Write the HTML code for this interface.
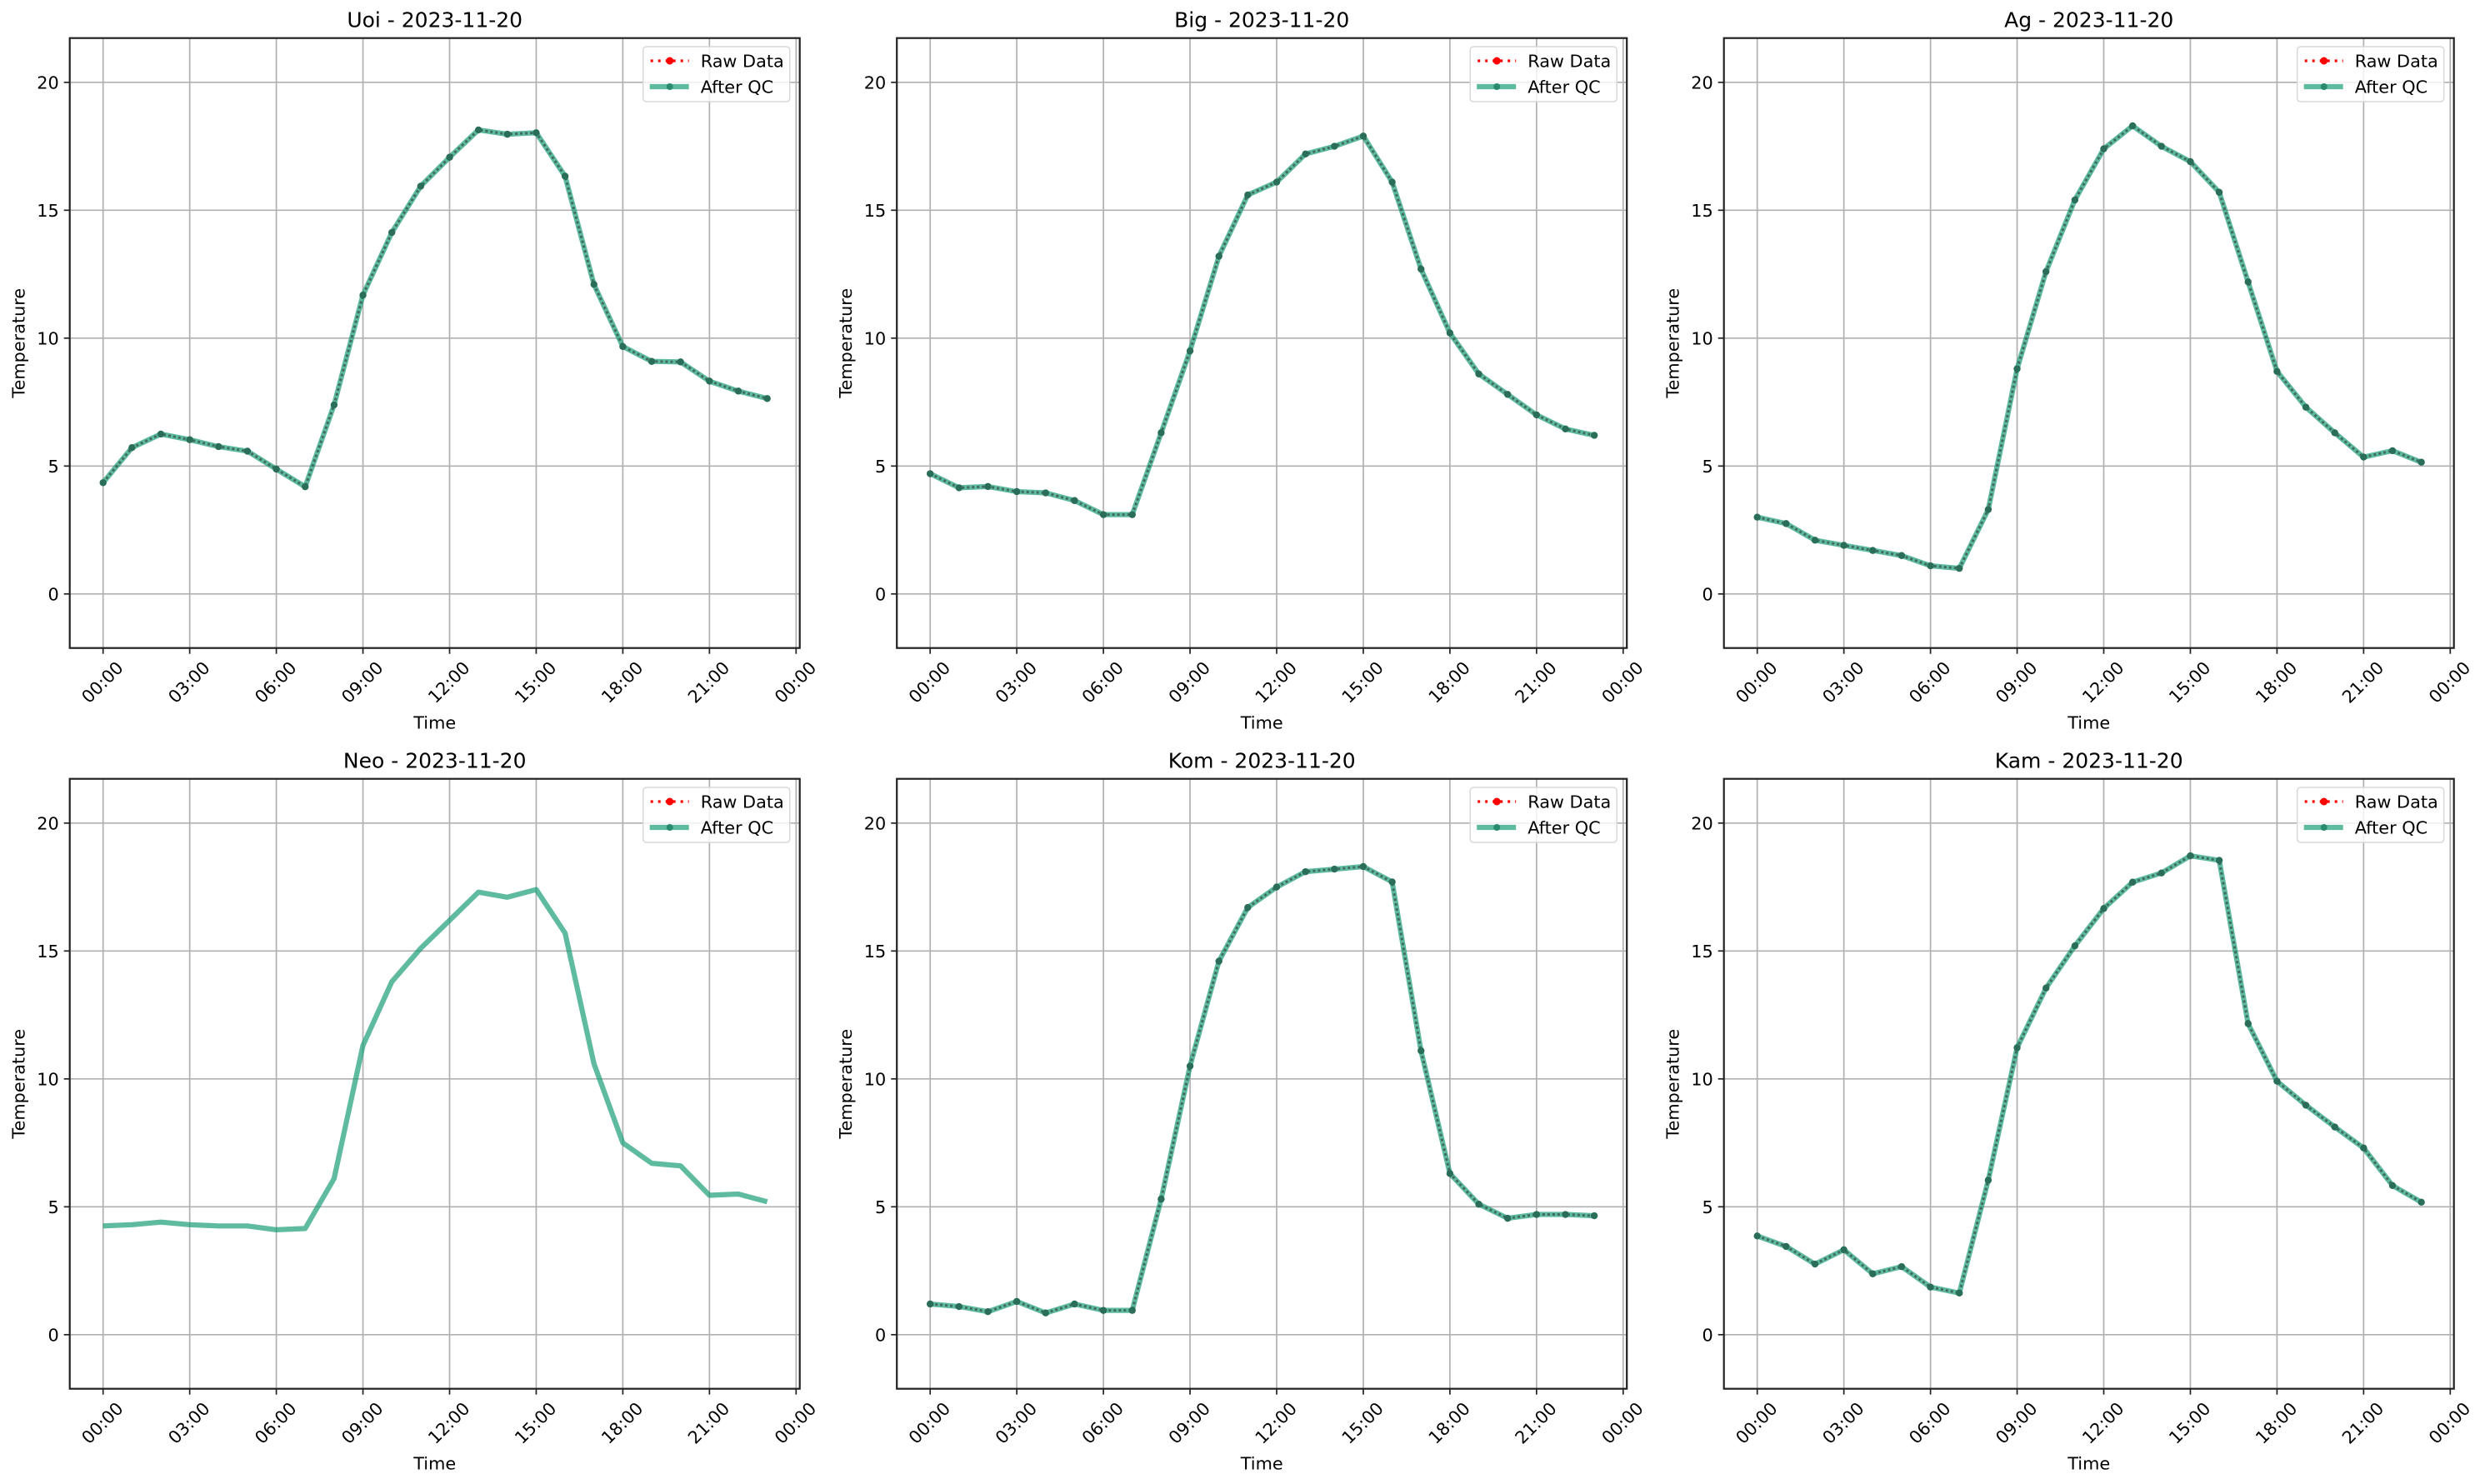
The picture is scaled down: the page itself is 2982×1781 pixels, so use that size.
<!DOCTYPE html>
<html><head><meta charset="utf-8"><style>
html,body{margin:0;padding:0;background:#fff;}
svg{display:block;font-family:"DejaVu Sans","Liberation Sans",sans-serif;}
.t{font-size:20.8px;fill:#000}
.ti{font-size:25px;fill:#000}
</style></head><body>
<svg id="s" width="2982" height="1781" viewBox="0 0 2982 1781" xmlns="http://www.w3.org/2000/svg">
<rect width="2982" height="1781" fill="#fff"/>
<g id="p0" transform="translate(83.7,45.7)"><g class="plot"></g>
<text class="ti" x="438" y="-13" text-anchor="middle">Uoi - 2023-11-20</text></g>
<g id="p1" transform="translate(1076.2,45.7)"><g class="plot"></g>
<text class="ti" x="438" y="-13" text-anchor="middle">Big - 2023-11-20</text></g>
<g id="p2" transform="translate(2068.7,45.7)"><g class="plot"></g>
<text class="ti" x="438" y="-13" text-anchor="middle">Ag - 2023-11-20</text></g>
<g id="p3" transform="translate(83.7,934.7)"><g class="plot"></g>
<text class="ti" x="438" y="-13" text-anchor="middle">Neo - 2023-11-20</text></g>
<g id="p4" transform="translate(1076.2,934.7)"><g class="plot"></g>
<text class="ti" x="438" y="-13" text-anchor="middle">Kom - 2023-11-20</text></g>
<g id="p5" transform="translate(2068.7,934.7)"><g class="plot"></g>
<text class="ti" x="438" y="-13" text-anchor="middle">Kam - 2023-11-20</text></g>
</svg>
<div id="labels" style="display:none">
Temperature Time 0 5 10 15 20 00:00 03:00 06:00 09:00 12:00 15:00 18:00 21:00 Raw Data After QC
</div>
<script>
var NS="http://www.w3.org/2000/svg";
var data=[
[4.35,5.72,6.25,6.03,5.76,5.58,4.88,4.19,7.39,11.68,14.13,15.94,17.07,18.14,17.97,18.03,16.33,12.10,9.67,9.09,9.07,8.32,7.93,7.64],
[4.7,4.15,4.2,4.0,3.95,3.65,3.1,3.1,6.3,9.5,13.2,15.6,16.1,17.2,17.5,17.9,16.1,12.7,10.2,8.6,7.8,7.0,6.45,6.2],
[3.0,2.75,2.1,1.9,1.7,1.5,1.1,1.0,3.3,8.8,12.6,15.4,17.4,18.3,17.5,16.9,15.7,12.2,8.7,7.3,6.3,5.35,5.6,5.15],
[4.25,4.3,4.4,4.3,4.25,4.25,4.1,4.15,6.1,11.3,13.8,15.1,16.2,17.3,17.1,17.4,15.7,10.6,7.5,6.7,6.6,5.45,5.5,5.2],
[1.2,1.1,0.9,1.3,0.85,1.2,0.95,0.95,5.3,10.5,14.6,16.7,17.5,18.1,18.2,18.3,17.7,11.1,6.3,5.1,4.55,4.7,4.7,4.65],
[3.86,3.45,2.76,3.32,2.38,2.66,1.86,1.63,6.04,11.22,13.55,15.2,16.66,17.69,18.05,18.72,18.54,12.16,9.91,8.97,8.12,7.30,5.83,5.18]];
function X(h){return 40+h*34.65;}
function Y(v){return (21.73-v)*30.7;}
function el(p,tag,a,txt){var e=document.createElementNS(NS,tag);for(var k in a)e.setAttribute(k,a[k]);if(txt!==undefined)e.textContent=txt;p.appendChild(e);return e;}
var W=876,H=732;
for(var i=0;i<6;i++){
 var g=document.getElementById('p'+i).querySelector('.plot');
 var h;
 for(h=0;h<=24;h+=3){el(g,'line',{x1:X(h),x2:X(h),y1:0,y2:H,stroke:'#b0b0b0','stroke-width':1.7});
   el(g,'line',{x1:X(h),x2:X(h),y1:H,y2:H+7,stroke:'#222','stroke-width':1.7});
   var lab=(h%24<10?'0':'')+(h%24)+':00';
   el(g,'text',{'class':'t',transform:'translate('+X(h)+','+(H+42)+') rotate(-45)','text-anchor':'middle','dominant-baseline':'middle'},lab);}
 for(var v=0;v<=20;v+=5){el(g,'line',{x1:0,x2:W,y1:Y(v),y2:Y(v),stroke:'#b0b0b0','stroke-width':1.7});
   el(g,'line',{x1:-7,x2:0,y1:Y(v),y2:Y(v),stroke:'#222','stroke-width':1.7});
   el(g,'text',{'class':'t',x:-13,y:Y(v)+7.5,'text-anchor':'end'},String(v));}
 var pts=data[i].map(function(v,k){return X(k).toFixed(1)+','+Y(v).toFixed(1);}).join(' ');
 el(g,'polyline',{points:pts,fill:'none',stroke:'#1b9e77','stroke-opacity':0.7,'stroke-width':6.2,'stroke-linejoin':'round'});
 if(i!==3){
  el(g,'polyline',{points:pts,fill:'none',stroke:'#3a5e52','stroke-opacity':0.85,'stroke-width':3,'stroke-dasharray':'3 3'});
  data[i].forEach(function(v,k){el(g,'circle',{cx:X(k),cy:Y(v),r:4.2,fill:'#2a6e5a'});});
 }
 el(g,'rect',{x:0,y:0,width:W,height:H,fill:'none',stroke:'#222','stroke-width':2.2});
 el(g,'text',{'class':'t',x:438,y:H+97,'text-anchor':'middle'},'Time');
 el(g,'text',{'class':'t',transform:'translate(-54,'+(H/2)+') rotate(-90)','text-anchor':'middle'},'Temperature');
 var lx=688,ly=10.3;
 el(g,'rect',{x:lx,y:ly,width:176,height:66,rx:4,fill:'#fff','fill-opacity':0.8,stroke:'#d8d8d8','stroke-width':1.5});
 el(g,'line',{x1:lx+9,x2:lx+55,y1:ly+17,y2:ly+17,stroke:'#ff0000','stroke-width':3.2,'stroke-dasharray':'3 6'});
 el(g,'circle',{cx:lx+32,cy:ly+17,r:4.5,fill:'#ff0000'});
 el(g,'text',{'class':'t',x:lx+69,y:ly+24.5},'Raw Data');
 el(g,'line',{x1:lx+8,x2:lx+55,y1:ly+48,y2:ly+48,stroke:'#1b9e77','stroke-opacity':0.7,'stroke-width':6.2});
 el(g,'circle',{cx:lx+32,cy:ly+48,r:4,fill:'#2a8a6e'});
 el(g,'text',{'class':'t',x:lx+69,y:ly+55.5},'After QC');
}
</script>
</body></html>
